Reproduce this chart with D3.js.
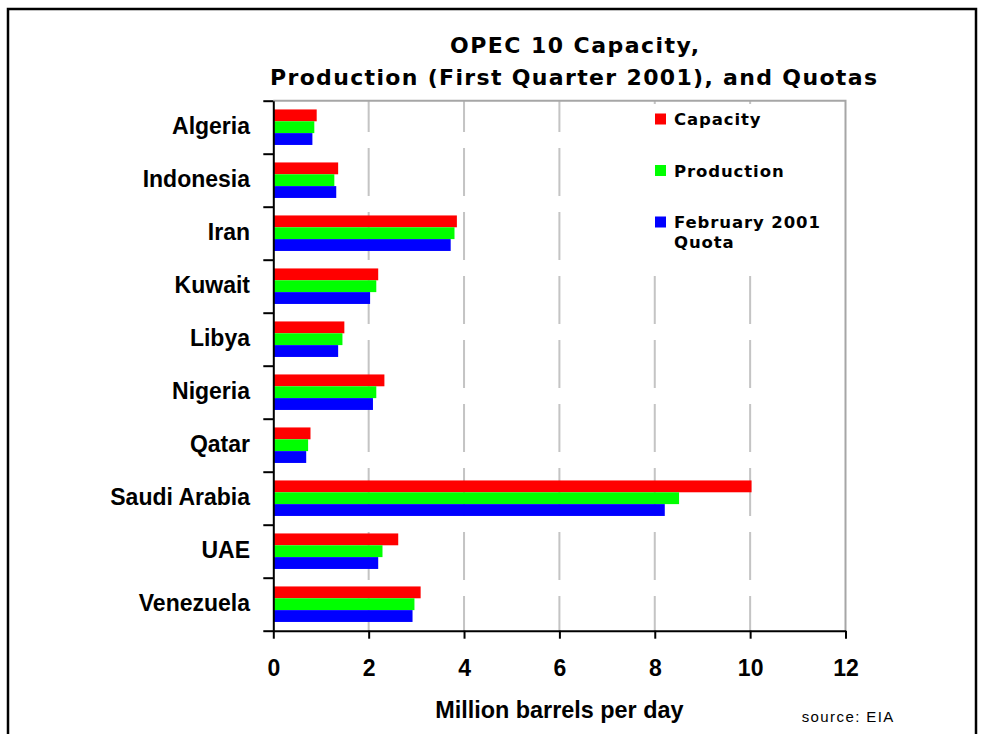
<!DOCTYPE html>
<html>
<head>
<meta charset="utf-8">
<script src="https://cdnjs.cloudflare.com/ajax/libs/d3/7.8.5/d3.min.js"></script>
<style>
    body { margin: 0; background: #fff; }
    text { font-family: "Liberation Sans", Arial, sans-serif; fill: #000; }
</style>
</head>
<body>
<svg id="chart" width="985" height="734"></svg>
<script>
// OPEC 10 capacity, production and quotas (million barrels per day)
var countries = ["Algeria", "Indonesia", "Iran", "Kuwait", "Libya", "Nigeria", "Qatar", "Saudi Arabia", "UAE", "Venezuela"];
var capacity = [0.91, 1.36, 3.85, 2.20, 1.49, 2.33, 0.78, 10.03, 2.62, 3.09];
var production = [0.86, 1.28, 3.80, 2.16, 1.45, 2.16, 0.73, 8.51, 2.29, 2.96];
var quota = [0.82, 1.32, 3.72, 2.03, 1.36, 2.09, 0.69, 8.21, 2.20, 2.92];
var seriesNames = ["Capacity", "Production", "February 2001"];
var seriesColors = ["#ff0000", "#00ff00", "#0000ff"];
var xTicks = [0, 2, 4, 6, 8, 10, 12];
var gridTicks = [2, 4, 6, 8, 10];

var svg, x, y, yBound, ySeries, margin = {};

main();

function main() {
    svg = d3.select("#chart");
    margin.left = 273.3;
    margin.right = 845.5;
    margin.top = 100.7;
    margin.bottom = 630.7;

    x = d3.scaleLinear()
        .domain([0, 12])
        .range([margin.left, margin.right]);

    y = d3.scaleBand()
        .domain(countries)
        .range([margin.top, margin.bottom])
        .paddingInner(0.33)
        .paddingOuter(0.165);

    yBound = d3.scaleLinear()
        .domain([0, countries.length])
        .range([margin.top, margin.bottom]);

    ySeries = d3.scaleBand()
        .domain(d3.range(3))
        .range([0, y.bandwidth()]);

    drawFrame();
    drawGrid();
    drawBars();
    drawAxes();
    drawLegend();
    drawTexts();
}

function drawFrame() {
    svg.append("rect")
        .attr("x", 8)
        .attr("y", 9)
        .attr("width", 968)
        .attr("height", 800)
        .attr("fill", "none")
        .attr("stroke", "#000")
        .attr("stroke-width", 2.5);
}

function drawGrid() {
    svg.append("g")
        .selectAll("line")
        .data(gridTicks)
        .join("line")
        .attr("x1", function(d) { return x(d); })
        .attr("x2", function(d) { return x(d); })
        .attr("y1", margin.top)
        .attr("y2", margin.bottom)
        .attr("stroke", "#c4c4c4")
        .attr("stroke-width", 2)
        .attr("stroke-dasharray", "48 16")
        .attr("stroke-dashoffset", 16.7);

    // plot border, top and right
    svg.append("path")
        .attr("d", "M" + x(0) + "," + margin.top + "H" + x(12) + "V" + margin.bottom)
        .attr("fill", "none")
        .attr("stroke", "#a6a6a6")
        .attr("stroke-width", 2);
}

function drawBars() {
    var values = [capacity, production, quota];
    var rows = countries.map(function(c, i) {
        return values.map(function(v, s) {
            return {country: c, s: s, value: v[i]};
        });
    });

    svg.append("g")
        .selectAll("g")
        .data(rows)
        .join("g")
        .attr("transform", function(d) { return "translate(0," + y(d[0].country) + ")"; })
        .selectAll("rect")
        .data(function(d) { return d; })
        .join("rect")
        .attr("x", x(0))
        .attr("y", function(d) { return ySeries(d.s); })
        .attr("width", function(d) { return x(d.value) - x(0); })
        .attr("height", ySeries.bandwidth())
        .attr("fill", function(d) { return seriesColors[d.s]; });
}

function drawAxes() {
    var xAxis = svg.append("g")
        .attr("transform", "translate(0," + margin.bottom + ")")
        .call(d3.axisBottom(x)
            .tickValues(xTicks)
            .tickSize(8)
            .tickSizeOuter(0)
            .tickPadding(21));
    xAxis.select(".domain").attr("stroke", "#000").attr("stroke-width", 2);
    xAxis.selectAll(".tick line").attr("stroke", "#000").attr("stroke-width", 2);
    xAxis.selectAll(".tick text")
        .attr("fill", "#000")
        .style("font-size", "23px")
        .style("font-weight", "bold")
        .style("font-family", "'Liberation Sans', Arial, sans-serif");

    var yAxis = svg.append("g")
        .attr("transform", "translate(" + margin.left + ",0)")
        .call(d3.axisLeft(yBound)
            .tickValues(d3.range(countries.length + 1))
            .tickSize(10)
            .tickSizeOuter(0)
            .tickFormat(""));
    yAxis.select(".domain").attr("stroke", "#000").attr("stroke-width", 2);
    yAxis.selectAll(".tick line").attr("stroke", "#000").attr("stroke-width", 2);

    svg.append("g")
        .selectAll("text")
        .data(countries)
        .join("text")
        .attr("x", 250)
        .attr("y", function(d) { return y(d) + y.bandwidth() / 2 + 7; })
        .attr("text-anchor", "end")
        .style("font-size", "23px")
        .style("font-weight", "bold")
        .text(function(d) { return d; });
}

function drawLegend() {
    svg.append("rect")
        .attr("x", 600)
        .attr("y", 104)
        .attr("width", 243)
        .attr("height", 158)
        .attr("fill", "#fff");

    var item = svg.append("g")
        .selectAll("g")
        .data(seriesNames)
        .join("g")
        .attr("transform", function(d, i) { return "translate(655," + (113.5 + i * 51.5) + ")"; });

    item.append("rect")
        .attr("width", 11)
        .attr("height", 11)
        .attr("fill", function(d, i) { return seriesColors[i]; });

    item.append("text")
        .attr("x", 19)
        .attr("y", 11.5)
        .style("font-family", "'DejaVu Sans', sans-serif")
        .style("font-size", "16.5px")
        .style("font-weight", "bold")
        .style("letter-spacing", "0.9px")
        .text(function(d) { return d; });

    svg.append("text")
        .attr("x", 674)
        .attr("y", 247.7)
        .style("font-family", "'DejaVu Sans', sans-serif")
        .style("font-size", "16.5px")
        .style("font-weight", "bold")
        .style("letter-spacing", "0.9px")
        .text("Quota");
}

function drawTexts() {
    svg.append("text")
        .attr("x", 574.5)
        .attr("y", 53.3)
        .attr("text-anchor", "middle")
        .attr("textLength", 249)
        .attr("lengthAdjust", "spacing")
        .style("font-family", "'DejaVu Sans', sans-serif")
        .style("font-size", "22px")
        .style("font-weight", "bold")
        .text("OPEC 10 Capacity,");

    svg.append("text")
        .attr("x", 573.5)
        .attr("y", 85)
        .attr("text-anchor", "middle")
        .attr("textLength", 607)
        .attr("lengthAdjust", "spacing")
        .style("font-family", "'DejaVu Sans', sans-serif")
        .style("font-size", "22px")
        .style("font-weight", "bold")
        .text("Production (First Quarter 2001), and Quotas");

    svg.append("text")
        .attr("x", (margin.left + margin.right) / 2)
        .attr("y", 718.3)
        .attr("text-anchor", "middle")
        .style("font-size", "23.4px")
        .style("font-weight", "bold")
        .text("Million barrels per day");

    svg.append("text")
        .attr("x", 801.7)
        .attr("y", 721.7)
        .attr("textLength", 91.6)
        .attr("lengthAdjust", "spacing")
        .style("font-size", "15px")
        .text("source: EIA");
}
</script>
</body>
</html>
